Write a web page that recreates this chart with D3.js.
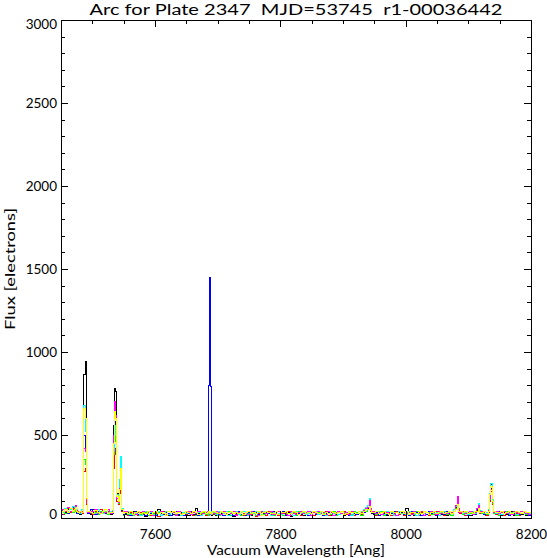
<!DOCTYPE html>
<html><head><meta charset="utf-8">
<script src="https://cdn.jsdelivr.net/npm/d3@7"></script>
<style>
body{margin:0;background:#fff}
svg text{font-family:Lato,"Liberation Sans",Arial,sans-serif;font-weight:400;fill:#000}
</style>
</head><body>
<svg id="chart" width="547" height="558"></svg>
<script>
const titleText = "Arc for Plate 2347  MJD=53745  r1-00036442";
const xLabelText = "Vacuum Wavelength [Ang]";
const yLabelText = "Flux [electrons]";
const xMajorTicks = [7600, 7800, 8000, 8200];
const yMajorTicks = [0, 500, 1000, 1500, 2000, 2500, 3000];

const wavelengths = [
7450,7454,7458,7462,7466,7470,7472,7474,7476,7478,7482,7485,
7488,7489.5,7491,7492.5,7495,7498,
7502,7506,7510,7514,7518,7522,7526,7530,
7533,7535,7537,7538.5,7540,7542,7543.5,7545,7546.5,7548,7550,
7554,7558,7562,7566,7570,7574,7578,7582,7586,7590,7594,7598,7602,7606,7610,7614,7618,7622,7626,7630,7634,7638,7642,7646,7650,7654,7658,7662,7666,7670,7674,7678,7682,
7685,7686.5,7688,7689.5,7691,
7694,7698,7702,7706,7710,7714,7718,7722,7726,7730,7734,7738,7742,7746,7750,7754,7758,7762,7766,7770,7774,7778,7782,7786,7790,7794,7798,7802,7806,7810,7814,7818,7822,7826,7830,7834,7838,7842,7846,7850,7854,7858,7862,7866,7870,7874,7878,7882,7886,7890,7894,7898,7902,7906,7910,7914,7918,7922,7926,7930,7934,7938,
7941,7943,7945,7947,
7950,7954,7958,7962,7966,7970,7974,7978,7982,7986,7990,7994,7998,8002,8006,8010,8014,8018,8022,8026,8030,8034,8038,8042,8046,8050,8054,8058,8062,8066,8070,8074,8078,
8081,8083,8085,
8088,8092,8096,8100,8104,8108,8112,
8115,8117,8119,
8122,8126,8130,8133,
8135,8137,8139,
8142,8146,8150,8154,8158,8162,8166,8170,8174,8178,8182,8186,8190,8194,8198,8202
];

const fluxBlack = [
28,42,35,49,39,56,45,55,40,28,21,42,
863,943,120,40,
35,21,49,28,42,25,35,49,28,21,
40,560,778,760,150,120,200,362,330,60,20,
21,31,14,39,25,17,35,28,11,42,21,31,25,49,17,28,35,14,39,21,28,17,35,25,42,14,31,21,55,28,17,35,25,
21,28,25,31,17,
28,17,35,25,14,39,21,31,11,25,42,17,28,35,21,14,31,25,39,17,
21,35,28,14,25,42,21,31,17,28,35,11,25,31,21,39,17,28,25,14,
35,21,31,42,17,25,28,14,39,21,31,25,17,35,28,21,14,31,25,35,
42,56,
60,78,45,28,
21,31,17,35,25,14,28,39,21,17,31,25,35,60,21,28,14,31,25,39,17,21,35,28,25,14,31,21,39,17,28,35,49,
60,95,40,
28,21,35,25,17,31,42,
45,66,35,
28,21,35,40,
120,200,90,
42,25,31,17,35,21,28,39,14,25,31,21,35,17,28,25
];

const fluxRed = [
35,21,42,56,31,49,50,60,45,35,42,28,
280,300,80,30,
42,28,21,39,31,49,25,35,42,28,
30,300,420,380,100,80,150,220,200,40,25,
28,17,35,25,42,14,31,21,39,28,17,35,25,11,31,42,21,28,17,35,25,39,14,31,21,28,35,17,25,42,21,31,14,
28,21,35,25,31,
21,35,25,42,17,28,31,14,39,21,25,35,17,28,42,21,31,11,25,35,
28,17,39,21,31,25,14,35,28,21,42,17,31,25,35,14,28,21,39,31,
17,25,35,28,21,42,14,31,25,17,35,28,39,21,25,31,17,35,28,21,
39,49,
50,70,40,31,
28,17,39,21,31,25,35,14,28,42,21,31,17,25,35,28,21,39,14,31,25,35,17,28,21,42,25,31,14,35,21,28,42,
55,85,35,
25,35,17,28,39,21,31,
40,60,30,
31,25,17,35,
100,160,80,
35,21,28,39,17,31,25,35,21,28,14,39,25,31,21,28
];

const fluxGreen = [
25,42,28,39,49,35,40,55,35,42,25,35,
350,320,90,35,
31,42,25,35,21,42,31,39,21,35,
35,380,500,460,120,90,170,220,210,50,18,
35,21,28,14,31,39,21,25,35,17,42,28,21,31,14,25,35,28,17,39,21,31,25,14,35,28,21,42,17,31,25,35,21,
31,17,25,35,21,
31,25,14,35,28,21,42,17,25,35,31,14,39,21,28,25,35,17,31,42,
21,28,25,35,14,31,39,21,17,28,25,35,31,14,42,21,25,35,17,28,
39,21,31,25,14,35,28,21,42,17,31,25,35,28,14,21,39,31,25,17,
35,42,
55,85,45,35,
31,21,28,39,17,35,25,31,21,14,39,28,25,35,17,31,21,42,28,25,14,35,31,21,39,17,28,25,35,21,31,14,39,
60,100,40,
31,21,39,17,28,35,25,
50,70,35,
25,35,21,38,
110,175,85,
28,35,17,31,25,42,21,28,35,17,31,25,39,21,28,35
];

const fluxBlue = [
21,35,49,28,42,63,55,50,30,31,35,49,
500,420,100,30,
28,49,35,21,39,31,42,25,35,42,
30,420,580,520,130,100,180,260,240,45,22,
25,35,17,31,42,21,28,39,14,35,25,31,17,42,28,21,35,25,14,31,39,21,28,17,35,25,42,31,21,14,35,28,25,
35,798,1448,790,42,
25,31,21,39,17,28,35,25,14,31,42,21,28,17,35,25,39,31,21,14,
28,35,25,17,42,31,21,28,39,14,25,35,17,31,28,21,42,25,14,35,
31,21,28,39,17,25,35,31,14,28,21,42,25,35,17,31,28,21,39,25,
31,49,
60,90,50,35,
25,35,17,31,42,21,28,25,39,14,31,35,21,28,17,39,25,31,35,14,28,21,42,25,31,17,35,28,21,39,25,31,42,
65,100,45,
35,25,31,17,39,28,21,
50,72,40,
35,21,31,45,
130,180,95,
31,25,39,21,28,35,17,31,25,42,21,28,35,25,17,31
];

const fluxCyan = [
42,31,56,42,49,70,60,70,50,39,28,49,
680,520,110,40,
39,31,42,28,49,35,25,42,31,39,
45,400,560,500,140,110,230,370,320,55,25,
31,42,21,35,25,39,17,31,42,25,35,21,31,39,17,28,42,21,35,31,25,39,17,35,28,42,21,31,25,35,17,39,28,
25,35,31,21,39,
35,21,42,31,25,39,17,35,28,42,21,31,39,25,17,35,28,42,31,21,
39,25,31,17,35,42,28,21,31,39,25,35,17,42,31,25,35,21,28,39,
31,42,21,35,25,17,39,31,28,35,21,42,25,31,39,17,35,28,25,42,
49,63,
75,115,60,42,
35,25,42,31,21,39,28,35,17,31,42,25,35,21,39,31,28,17,35,42,25,31,21,39,28,35,17,31,42,25,35,28,49,
70,110,50,
39,28,35,21,31,42,25,
60,85,45,
39,28,35,50,
150,205,110,
39,28,35,21,42,31,25,35,39,21,31,42,28,35,25,39
];

const fluxMagenta = [
35,49,39,63,42,56,55,75,45,42,35,42,
420,400,90,35,
31,42,39,49,28,35,42,31,49,25,
40,500,700,620,120,95,180,240,230,50,28,
39,25,42,31,21,35,28,42,25,31,39,17,35,28,42,25,21,39,31,35,17,42,28,25,31,39,21,35,28,42,31,25,35,
39,31,21,35,28,
28,39,31,21,42,25,35,28,39,17,31,42,25,35,21,39,31,28,17,42,
35,25,31,39,21,28,42,25,35,31,17,39,28,21,35,42,25,31,39,17,
35,28,42,25,31,21,39,35,17,31,42,25,28,35,21,39,31,25,42,35,
45,56,
65,105,55,39,
39,28,35,21,42,31,25,39,35,17,28,42,31,25,35,21,39,28,31,42,17,35,25,39,31,21,42,28,35,25,39,31,42,
75,127,55,
35,42,25,31,39,21,35,
55,75,40,
42,31,25,45,
120,170,95,
35,42,25,31,39,28,35,21,42,31,25,39,35,28,21,31
];

const fluxYellow = [
28,39,49,35,56,42,50,65,40,35,42,31,
660,600,120,38,
42,35,28,45,35,25,39,49,28,35,
35,450,640,600,130,100,170,300,270,50,30,
35,28,39,21,31,42,25,35,28,39,21,31,42,25,35,28,17,39,31,42,25,35,21,28,39,31,25,42,35,21,31,39,28,
31,39,25,35,28,
39,31,25,42,35,21,31,39,28,35,25,42,21,31,39,28,35,25,42,17,
31,39,35,25,28,42,21,35,31,39,25,28,42,35,21,31,39,25,35,28,
42,31,25,39,21,35,28,42,31,25,35,39,21,28,42,31,35,25,39,28,
42,53,
50,70,45,35,
31,42,25,35,39,28,21,42,31,35,25,39,28,42,21,35,31,25,39,28,42,35,21,31,39,25,35,42,28,31,39,25,42,
50,80,40,
39,31,42,25,35,28,39,
40,55,35,
35,42,28,40,
140,187,100,
42,31,35,39,25,35,42,28,31,39,35,25,42,31,35,28
];

const seriesNames = ["black","red","green","blue","cyan","magenta","yellow"];
const seriesColors = ["#000000","#ff0000","#00ff00","#0000ff","#00ffff","#ff00ff","#ffff00"];
const seriesValues = [fluxBlack, fluxRed, fluxGreen, fluxBlue, fluxCyan, fluxMagenta, fluxYellow];

seriesValues.forEach((s, i) => {
  if (s.length !== wavelengths.length) console.error(seriesNames[i] + " length " + s.length + " vs " + wavelengths.length);
});

const plot = {left: 61, right: 531, top: 20, bottom: 518};
const svg = d3.select("#chart");

const x = d3.scaleLinear().domain([7450, 8200]).range([plot.left, plot.right]);
const y = d3.scaleLinear().domain([0, 3000]).range([plot.bottom, plot.top]);

svg.append("defs").append("clipPath").attr("id", "clip")
  .append("rect").attr("x", plot.left).attr("y", plot.top)
  .attr("width", plot.right - plot.left).attr("height", plot.bottom - plot.top);

const line = d3.line().x(d => x(d[0])).y(d => y(d[1])).curve(d3.curveStep);

const gLines = svg.append("g").attr("clip-path", "url(#clip)");
seriesValues.forEach((vals, i) => {
  const pts = wavelengths.map((w, k) => [w, vals[k]]);
  gLines.append("path").datum(pts)
    .attr("d", line)
    .attr("fill", "none")
    .attr("stroke", seriesColors[i])
    .attr("stroke-width", 1)
    .attr("shape-rendering", "crispEdges");
});

const xMinor = d3.range(7500, 8200, 50).filter(v => !xMajorTicks.includes(v));
const yMinor = d3.range(100, 3000, 100).filter(v => !yMajorTicks.includes(v));

const FONT = 'Lato,"Liberation Sans",Arial,sans-serif';
function styleAxis(g) {
  g.select(".domain").remove();
  g.selectAll("line").attr("stroke", "#000").attr("shape-rendering", "crispEdges");
  g.selectAll("text").attr("font-size", 13.5).attr("font-family", FONT).attr("font-weight", 400).attr("fill", "#000");
}

svg.append("g").attr("transform", `translate(0,${plot.bottom})`)
  .call(d3.axisBottom(x).tickValues(xMajorTicks).tickSize(-7).tickPadding(11).tickFormat(d3.format("d")))
  .call(styleAxis);
svg.append("g").attr("transform", `translate(0,${plot.bottom})`)
  .call(d3.axisBottom(x).tickValues(xMinor).tickSize(-3.5).tickFormat(""))
  .call(styleAxis);
svg.append("g").attr("transform", `translate(0,${plot.top})`)
  .call(d3.axisTop(x).tickValues(xMajorTicks).tickSize(-7).tickFormat(""))
  .call(styleAxis);
svg.append("g").attr("transform", `translate(0,${plot.top})`)
  .call(d3.axisTop(x).tickValues(xMinor).tickSize(-3.5).tickFormat(""))
  .call(styleAxis);
const leftAxis = svg.append("g").attr("transform", `translate(${plot.left},0)`)
  .call(d3.axisLeft(y).tickValues(yMajorTicks).tickSize(-7).tickPadding(4).tickFormat(d3.format("d")))
  .call(styleAxis);
// keep end labels inside the axis extent, as in the reference
leftAxis.selectAll(".tick text")
  .attr("dy", d => d === 0 ? "0.02em" : (d === 3000 ? "0.6em" : "0.32em"));
svg.append("g").attr("transform", `translate(${plot.left},0)`)
  .call(d3.axisLeft(y).tickValues(yMinor).tickSize(-4).tickFormat(""))
  .call(styleAxis);
svg.append("g").attr("transform", `translate(${plot.right},0)`)
  .call(d3.axisRight(y).tickValues(yMajorTicks).tickSize(-7).tickFormat(""))
  .call(styleAxis);
svg.append("g").attr("transform", `translate(${plot.right},0)`)
  .call(d3.axisRight(y).tickValues(yMinor).tickSize(-4).tickFormat(""))
  .call(styleAxis);

svg.append("rect")
  .attr("x", plot.left + 0.5).attr("y", plot.top + 0.5)
  .attr("width", plot.right - plot.left).attr("height", plot.bottom - plot.top)
  .attr("fill", "none").attr("stroke", "#000").attr("stroke-width", 1);

svg.append("text")
  .attr("x", (plot.left + plot.right) / 2).attr("y", 15)
  .attr("text-anchor", "middle").attr("font-size", 14.5)
  .style("white-space", "pre")
  .attr("textLength", 413).attr("lengthAdjust", "spacingAndGlyphs")
  .text(titleText);

svg.append("text")
  .attr("x", (plot.left + plot.right) / 2).attr("y", 555)
  .attr("text-anchor", "middle").attr("font-size", 14)
  .attr("textLength", 178).attr("lengthAdjust", "spacingAndGlyphs")
  .text(xLabelText);

svg.append("text")
  .attr("transform", `translate(14.5,269) rotate(-90)`)
  .attr("text-anchor", "middle").attr("font-size", 14)
  .attr("textLength", 122).attr("lengthAdjust", "spacingAndGlyphs")
  .text(yLabelText);
</script>
</body></html>
